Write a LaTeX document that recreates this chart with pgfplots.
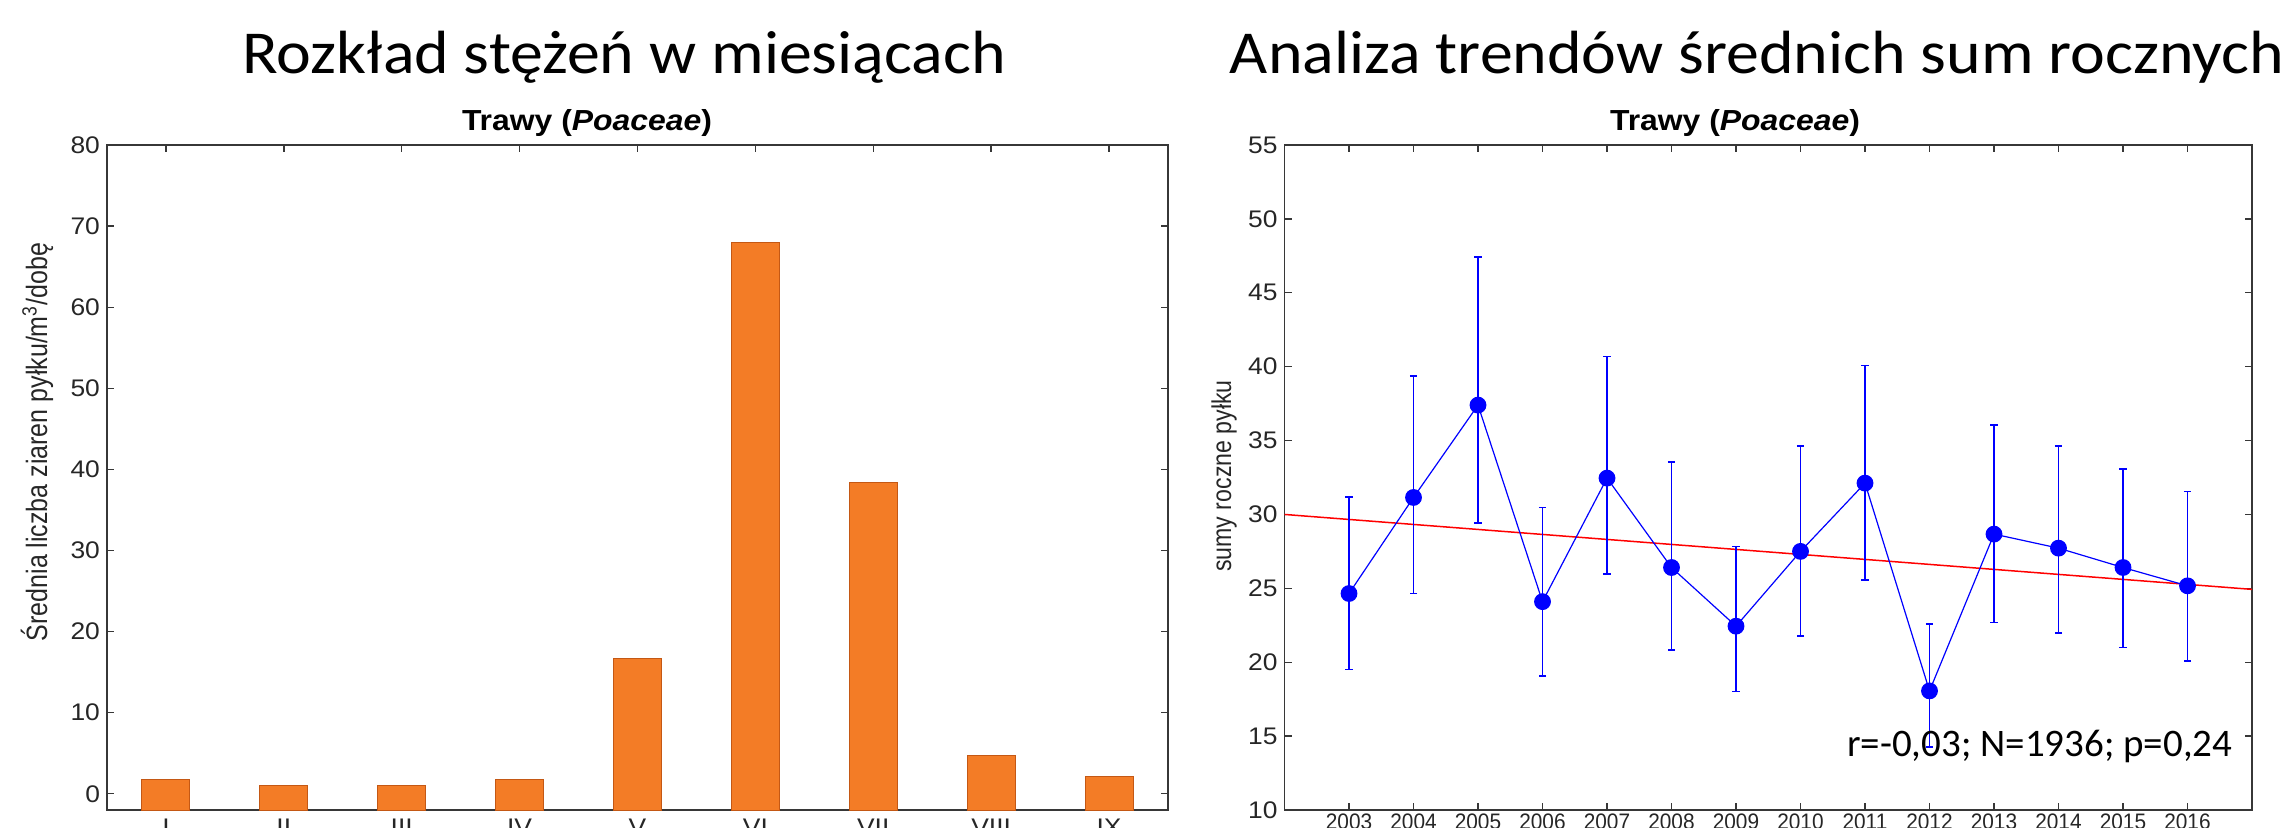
\documentclass[border=0pt]{standalone}
\usepackage{pgfplots}
\pgfplotsset{compat=1.18}
\usepackage{fontspec}
\setmainfont{Liberation Sans}
\newfontfamily\chartfont[FakeStretch=1.1]{Liberation Sans}
\newfontfamily\yearfont[FakeStretch=0.93]{Liberation Sans}
\newfontfamily\slidefont[FakeStretch=1.08]{Carlito}
\newfontfamily\notefont{Carlito}
\newfontfamily\labelfont[FakeStretch=0.85]{Liberation Sans}
\definecolor{barfill}{RGB}{243,124,38}
\definecolor{baredge}{RGB}{196,88,20}
\definecolor{axgray}{RGB}{55,55,55}
\begin{document}
\begin{tikzpicture}
\useasboundingbox (0,0) rectangle (1148pt,413.5pt);
\pgfplotsset{
  every axis/.append style={
    scale only axis,
    axis line style={axgray, line width=0.7pt},
    tick align=inside,
    major tick length=3.5pt,
    every tick/.style={axgray, line width=0.7pt},
    ticklabel style={font=\chartfont\fontsize{12}{14}\selectfont, text=black!85},
    /pgf/number format/assume math mode=true,
    /pgf/number format/1000 sep={},
  },
  barstyle/.style={fill=barfill, draw=baredge, line width=0.5pt, mark=none},
}
% ---------- left: bars ----------
\begin{axis}[at={(53.5pt,8.5pt)}, anchor=south west, width=530.5pt, height=332.5pt,
  xmin=0.5, xmax=9.5, ymin=-2, ymax=80,
  xtick={1,...,9}, xticklabels={I,II,III,IV,V,VI,VII,VIII,IX},
  xticklabel style={yshift=-1pt},
  ytick={0,10,...,80}]
\addplot[barstyle] coordinates {(0.796,-2) (0.796,1.71) (1.204,1.71) (1.204,-2)} --cycle;
\addplot[barstyle] coordinates {(1.796,-2) (1.796,1.06) (2.204,1.06) (2.204,-2)} --cycle;
\addplot[barstyle] coordinates {(2.796,-2) (2.796,1.06) (3.204,1.06) (3.204,-2)} --cycle;
\addplot[barstyle] coordinates {(3.796,-2) (3.796,1.71) (4.204,1.71) (4.204,-2)} --cycle;
\addplot[barstyle] coordinates {(4.796,-2) (4.796,16.7) (5.204,16.7) (5.204,-2)} --cycle;
\addplot[barstyle] coordinates {(5.796,-2) (5.796,68.0) (6.204,68.0) (6.204,-2)} --cycle;
\addplot[barstyle] coordinates {(6.796,-2) (6.796,38.4) (7.204,38.4) (7.204,-2)} --cycle;
\addplot[barstyle] coordinates {(7.796,-2) (7.796,4.78) (8.204,4.78) (8.204,-2)} --cycle;
\addplot[barstyle] coordinates {(8.796,-2) (8.796,2.08) (9.204,2.08) (9.204,-2)} --cycle;
\end{axis}
% ---------- right: trend ----------
\begin{axis}[at={(642.25pt,8.5pt)}, anchor=south west, width=483.75pt, height=332.5pt,
  xmin=2002, xmax=2017, ymin=10, ymax=55,
  xtick={2003,...,2016}, ytick={10,15,...,55},
  xticklabel style={font=\yearfont\fontsize{11.2}{13}\selectfont, yshift=1.5pt}]
\addplot[red, line width=0.75pt] coordinates {(2002,30.0) (2017,24.93)};
\addplot[blue, line width=0.6pt, mark=*, mark size=3.9pt,
  mark options={fill=blue, draw=blue},
  error bars/.cd, y dir=both, y explicit,
  error bar style={blue, line width=0.85pt},
  error mark options={rotate=90, mark size=1.8pt, blue, line width=0.85pt}]
 coordinates {
  (2003,24.65) += (0,6.55) -= (0,5.15)
  (2004,31.15) += (0,8.20) -= (0,6.50)
  (2005,37.40) += (0,10.0) -= (0,8.00)
  (2006,24.10) += (0,6.37) -= (0,5.03)
  (2007,32.46) += (0,8.22) -= (0,6.50)
  (2008,26.41) += (0,7.13) -= (0,5.58)
  (2009,22.44) += (0,5.39) -= (0,4.43)
  (2010,27.50) += (0,7.15) -= (0,5.74)
  (2011,32.12) += (0,7.95) -= (0,6.54)
  (2012,18.06) += (0,4.51) -= (0,3.79)
  (2013,28.67) += (0,7.38) -= (0,5.98)
  (2014,27.72) += (0,6.93) -= (0,5.72)
  (2015,26.41) += (0,6.66) -= (0,5.42)
  (2016,25.17) += (0,6.39) -= (0,5.08)
 };
\node[anchor=base east, inner sep=0pt, font=\notefont\fontsize{19.5}{22}\selectfont]
  at (axis cs:2016.7,13.64) {r=-0,03; N=1936; p=0,24};
\end{axis}
% ---------- titles and labels ----------
\node[anchor=base, inner sep=0pt, font=\slidefont\fontsize{30.5}{36}\selectfont] at (312pt,377pt) {Rozkład stężeń w miesiącach};
\node[anchor=base, inner sep=0pt, font=\slidefont\fontsize{30.5}{36}\selectfont] at (878.5pt,377pt) {Analiza trendów średnich sum rocznych};
\node[anchor=base, inner sep=0pt, font=\chartfont\fontsize{14.5}{16}\selectfont\bfseries] at (293.5pt,348.5pt) {Trawy (\textit{Poaceae})};
\node[anchor=base, inner sep=0pt, font=\chartfont\fontsize{14.5}{16}\selectfont\bfseries] at (867.5pt,348.5pt) {Trawy (\textit{Poaceae})};
\node[rotate=90, inner sep=0pt, font=\labelfont\fontsize{14.7}{18}\selectfont, text=black!85] at (18.5pt,192.5pt) {Średnia liczba ziaren pyłku/m\textsuperscript{3}/dobę};
\node[rotate=90, inner sep=0pt, font=\labelfont\fontsize{13.6}{18}\selectfont, text=black!85] at (612pt,175.5pt) {sumy roczne pyłku};
\end{tikzpicture}
\end{document}
